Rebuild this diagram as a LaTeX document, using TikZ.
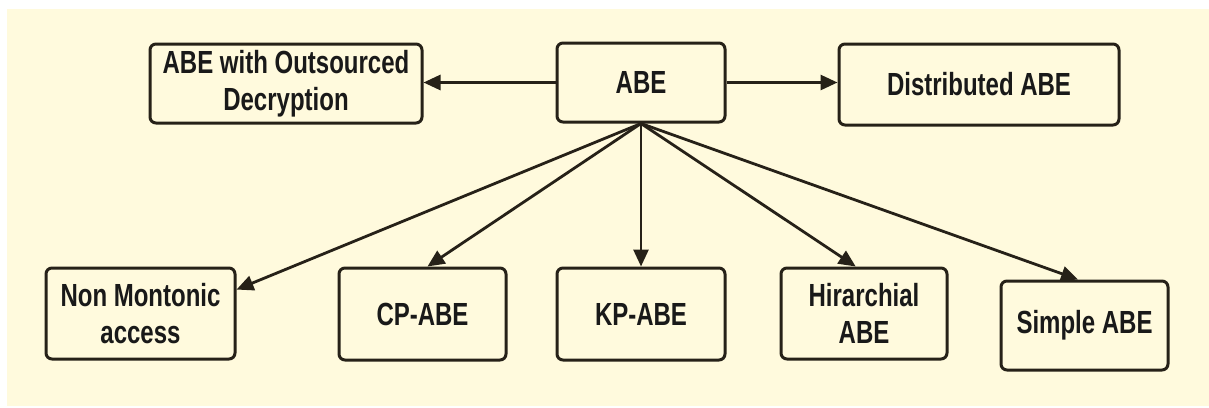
\documentclass[tikz,border=0pt]{standalone}
\usepackage{fontspec}
\setmainfont{Liberation Sans}[FakeStretch=0.75]
\usetikzlibrary{arrows.meta}
\definecolor{bgcream}{RGB}{255,250,221}
\definecolor{edge}{RGB}{38,33,24}
\definecolor{txt}{RGB}{25,25,25}
\tikzset{
  box/.style={draw=edge, line width=3pt, rounded corners=6pt, fill=bgcream,
    align=center, text=txt, font=\fontsize{32}{37}\selectfont\bfseries,
    inner sep=0pt},
  conn/.style={draw=edge, line width=2.8pt, -{Triangle[length=17pt,width=15pt]}}
}
\begin{document}
\begin{tikzpicture}[x=1pt,y=-1pt]
\useasboundingbox (0,0) rectangle (1209,407);
\fill[white] (0,0) rectangle (1209,407);
\fill[bgcream] (7,9) rectangle (1209,406);
\node[box, minimum width=272pt, minimum height=79pt] (out) at (286,83.5) {ABE with Outsourced\\Decryption};
\node[box, minimum width=168pt, minimum height=79pt] (abe) at (641,82.5) {ABE};
\node[box, minimum width=280pt, minimum height=81pt] (dist) at (979,84.5) {Distributed ABE};
\node[box, minimum width=189pt, minimum height=91pt] (non) at (140.5,313.5) {Non Montonic\\access};
\node[box, minimum width=167pt, minimum height=92pt] (cp) at (422.5,314) {CP-ABE};
\node[box, minimum width=168pt, minimum height=92pt] (kp) at (641,314) {KP-ABE};
\node[box, minimum width=166pt, minimum height=91pt] (hir) at (864,313.5) {Hirarchial\\ABE};
\node[box, minimum width=167pt, minimum height=89pt] (simple) at (1084.5,325.5) {Simple ABE};
\draw[conn] (abe.west) -- (out.east |- abe.west);
\draw[conn] (abe.east) -- (dist.west |- abe.east);
\draw[conn] (abe.south) -- (non.14);
\draw[conn] (abe.south) -- (cp.84);
\draw[conn] (abe.south) -- (kp.north);
\draw[conn] (abe.south) -- (hir.100);
\draw[conn] (abe.south) -- (simple.98);
\end{tikzpicture}
\end{document}
